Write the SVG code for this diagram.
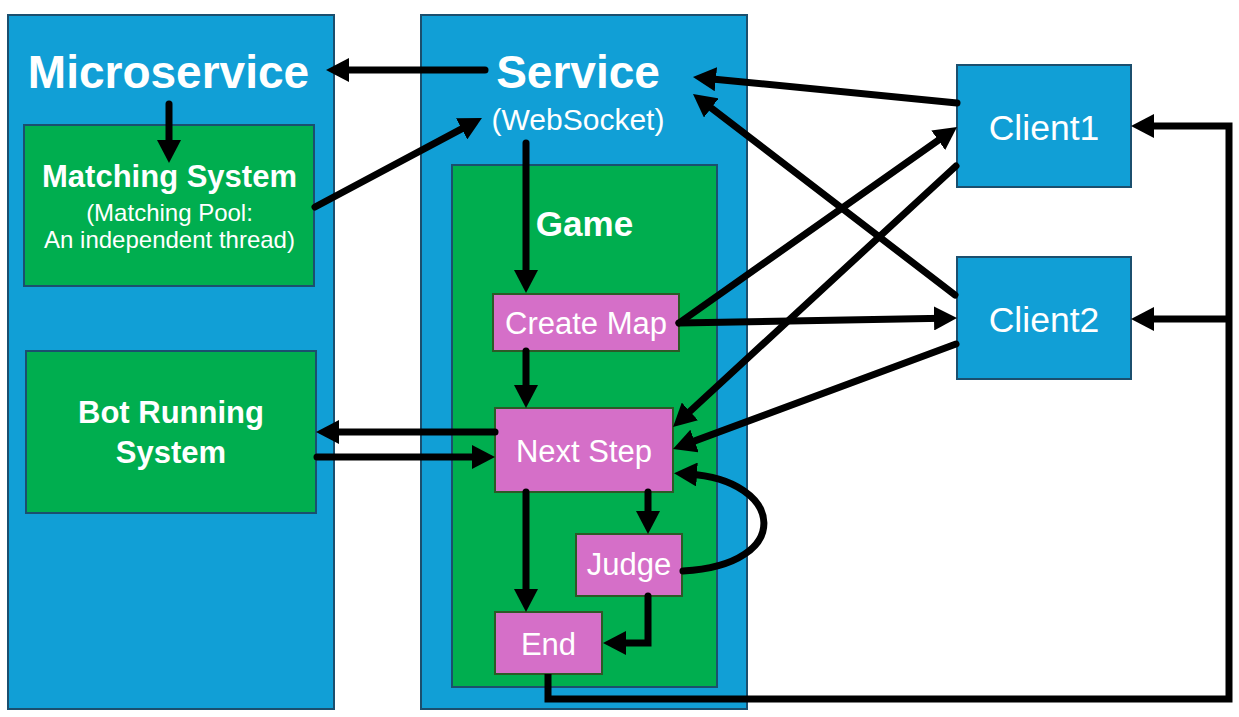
<svg xmlns="http://www.w3.org/2000/svg" width="1239" height="717" viewBox="0 0 1239 717">
<style>
.blue{fill:#119fd6;stroke:#1b4f6e;stroke-width:2}
.green{fill:#00ae4f;stroke:#1b4f6e;stroke-width:2}
.pink{fill:#d56fc8;stroke:#2c5a27;stroke-width:2}
text{font-family:"Liberation Sans",Arial,sans-serif;fill:#ffffff;text-anchor:middle}
.big{font-size:46px;font-weight:bold}
.bold{font-size:31px;font-weight:bold}
.reg{font-size:31px}
.small{font-size:24px}
.cli{font-size:35.5px}
.c{fill:none;stroke:#000;stroke-width:7;stroke-linecap:round;stroke-linejoin:miter}
</style>
<defs>
<marker id="ah" markerUnits="userSpaceOnUse" markerWidth="23" markerHeight="24" refX="9" refY="12" orient="auto" viewBox="0 0 23 24">
<path d="M0,0 L23,12 L0,24 z" fill="#000"/>
</marker>
</defs>
<rect width="1239" height="717" fill="#ffffff"/>
<g id="microservice">
<rect class="blue" x="8" y="15" width="326" height="694"/>
<text class="big" x="168.5" y="88">Microservice</text>
</g>
<g id="service">
<rect class="blue" x="421" y="15" width="326" height="694"/>
<text class="big" x="578" y="88">Service</text>
<text class="reg" x="578" y="130" style="font-size:30px">(WebSocket)</text>
</g>
<g id="matching-system">
<rect class="green" x="24" y="125" width="290" height="161"/>
<text class="bold" x="169.5" y="187">Matching System</text>
<text class="small" x="169.5" y="221">(Matching Pool:</text>
<text class="small" x="169.5" y="248">An independent thread)</text>
</g>
<g id="bot-running-system">
<rect class="green" x="26" y="351" width="290" height="162"/>
<text class="bold" x="171" y="423">Bot Running</text>
<text class="bold" x="171" y="463">System</text>
</g>
<g id="game">
<rect class="green" x="452" y="165" width="265" height="522"/>
<text class="bold" x="584.5" y="236" style="font-size:35px">Game</text>
</g>
<g id="create-map">
<rect class="pink" x="493" y="294" width="186" height="57"/>
<text class="reg" x="586" y="334">Create Map</text>
</g>
<g id="next-step">
<rect class="pink" x="495" y="408" width="178" height="84"/>
<text class="reg" x="584" y="462">Next Step</text>
</g>
<g id="judge">
<rect class="pink" x="576" y="534" width="106" height="62"/>
<text class="reg" x="629" y="575">Judge</text>
</g>
<g id="end">
<rect class="pink" x="495" y="612" width="107" height="62"/>
<text class="reg" x="548.5" y="655">End</text>
</g>
<g id="client1">
<rect class="blue" x="957" y="65" width="174" height="122"/>
<text class="cli" x="1044" y="140">Client1</text>
</g>
<g id="client2">
<rect class="blue" x="957" y="257" width="174" height="122"/>
<text class="cli" x="1044" y="332">Client2</text>
</g>
<g id="connectors">
<path class="c" d="M485,70 L340,70" marker-end="url(#ah)"/>
<path class="c" d="M169,104 L169,149" marker-end="url(#ah)"/>
<path class="c" d="M315,207 L469.6,124.6" marker-end="url(#ah)"/>
<path class="c" d="M526,143 L526,279" marker-end="url(#ah)"/>
<path class="c" d="M526,351 L526,394" marker-end="url(#ah)"/>
<path class="c" d="M526,492 L526,598" marker-end="url(#ah)"/>
<path class="c" d="M648,492 L648,520" marker-end="url(#ah)"/>
<path class="c" d="M648,596 L648,643 L617,643" marker-end="url(#ah)"/>
<path class="c" d="M683,571 C795,565 785,480 688,474" marker-end="url(#ah)"/>
<path class="c" d="M495,432 L330,432" marker-end="url(#ah)"/>
<path class="c" d="M317,457 L481,457" marker-end="url(#ah)"/>
<path class="c" d="M957,103 L706.9,78.4" marker-end="url(#ah)"/>
<path class="c" d="M955,295 L704.1,102.5" marker-end="url(#ah)"/>
<path class="c" d="M679,323 L945.6,135.1" marker-end="url(#ah)"/>
<path class="c" d="M679,323 L943,318.3" marker-end="url(#ah)"/>
<path class="c" d="M956,166 L683.3,417.5" marker-end="url(#ah)"/>
<path class="c" d="M956,344 L686.1,444.1" marker-end="url(#ah)"/>
<path class="c" style="stroke-linecap:butt" d="M548,674 L548,699 L1229,699 L1229,126 L1145,126" marker-end="url(#ah)"/>
<path class="c" style="stroke-linecap:butt" d="M1229,319 L1145,319" marker-end="url(#ah)"/>
</g>
</svg>
